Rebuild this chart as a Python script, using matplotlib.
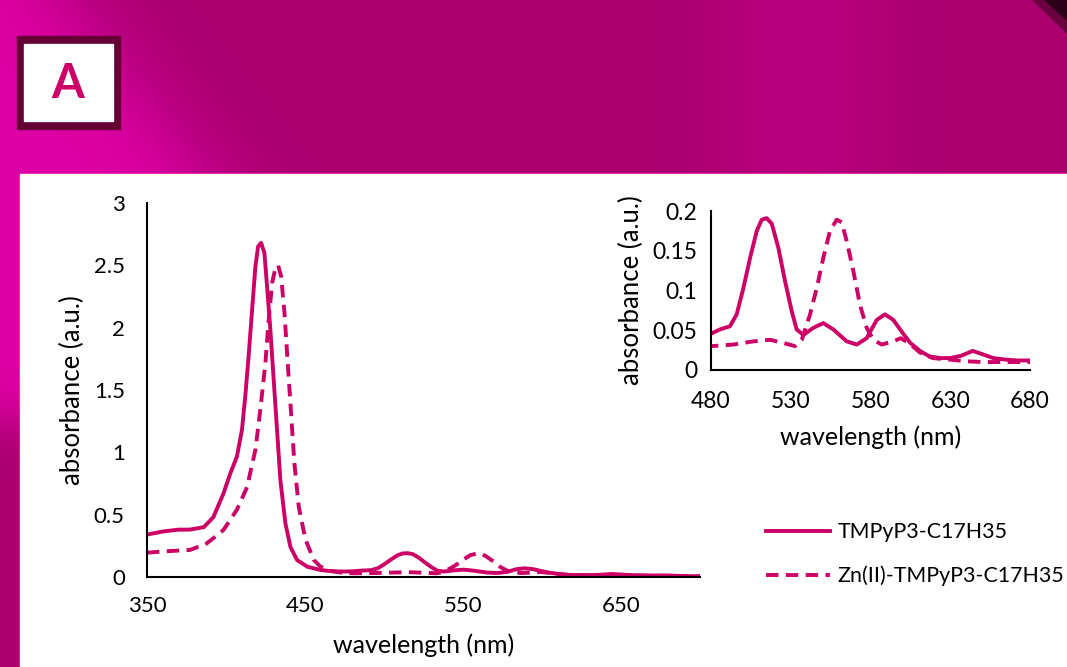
import matplotlib
matplotlib.use("Agg")
import matplotlib.pyplot as plt
import numpy as np
from matplotlib.patches import Rectangle, Polygon

plt.rcParams['font.family'] = ['Lato', 'DejaVu Sans']

# TMPyP3-C17H35 (solid)
wl_free = [350, 360, 370, 377, 386, 392, 398.4, 402.7, 406.9, 410.1, 412.2, 414.3, 416.5, 418.6,
           420.3, 422.2, 424.3, 426, 428.1, 430.2, 432.3, 434.4, 437.6, 440.8, 445, 451.4, 459.8,
           468, 475, 480.4, 485.6, 491.9, 496.1, 500.3, 504.5, 508.7, 511.8, 514.9, 518.1, 522.2,
           526.4, 530.6, 533.7, 537.9, 544.1, 550.4, 556.7, 565.1, 571.4, 577.6, 583.9, 589.1,
           594.3, 600, 605, 611, 617, 624, 630, 637, 644, 650, 657, 665, 672, 680, 690, 700]
abs_free = [0.34, 0.365, 0.38, 0.38, 0.40, 0.48, 0.67, 0.83, 0.965, 1.18, 1.45, 1.77, 2.14, 2.49,
            2.65, 2.68, 2.60, 2.33, 1.98, 1.58, 1.18, 0.78, 0.43, 0.24, 0.136, 0.083, 0.056,
            0.045, 0.044, 0.046, 0.051, 0.055, 0.070, 0.103, 0.141, 0.175, 0.189, 0.191, 0.184,
            0.154, 0.112, 0.074, 0.051, 0.044, 0.053, 0.059, 0.051, 0.036, 0.032, 0.040, 0.063,
            0.070, 0.063, 0.047, 0.034, 0.024, 0.017, 0.015, 0.015, 0.018, 0.024, 0.020, 0.015,
            0.013, 0.012, 0.012, 0.008, 0.005]

# Zn(II)-TMPyP3-C17H35 (dashed)
wl_zn = [350, 360, 370, 377.3, 387.9, 398.4, 406.9, 413.3, 418.6, 421.7, 424.9, 427, 429.2,
         431.3, 433, 434.9, 437, 439.1, 441.2, 443.3, 446.1, 450.3, 455.6, 459.8, 466, 473,
         480.4, 494, 506.5, 517, 525.3, 532.7, 536.9, 542.1, 546.3, 550.4, 554.6, 558.8, 561.9,
         565.1, 569.3, 573.4, 577.6, 581.8, 587, 594.3, 599, 604, 611, 619, 630, 640, 650, 661,
         670, 680, 690, 700]
abs_zn = [0.195, 0.205, 0.212, 0.217, 0.27, 0.377, 0.54, 0.72, 1.02, 1.34, 1.71, 2.06, 2.36,
          2.48, 2.50, 2.41, 2.12, 1.71, 1.31, 0.91, 0.56, 0.30, 0.136, 0.083, 0.05, 0.035,
          0.030, 0.032, 0.036, 0.038, 0.034, 0.030, 0.038, 0.070, 0.103, 0.141, 0.175, 0.189,
          0.186, 0.162, 0.124, 0.082, 0.053, 0.038, 0.032, 0.036, 0.040, 0.034, 0.022, 0.015,
          0.013, 0.011, 0.010, 0.010, 0.010, 0.010, 0.007, 0.005]

label_free = 'TMPyP3-C17H35'
label_zn = 'Zn(II)-TMPyP3-C17H35'
main_xticks = [350, 450, 550, 650]
main_yticks = [0, 0.5, 1, 1.5, 2, 2.5, 3]
inset_xticks = [480, 530, 580, 630, 680]
inset_yticks = [0, 0.05, 0.1, 0.15, 0.2]

col = '#CC0066'
W, H = 1067, 667
lw = 2.8
dash = (0, (3.2, 1.9))

fig = plt.figure(figsize=(W / 100, H / 100), dpi=100)

# slide background (gradient)
bg = fig.add_axes([0, 0, 1, 1])
yy, xx = np.mgrid[0:H, 0:W].astype(float)
dark = np.array([170, 0, 112]) / 255
bright = np.array([222, 0, 165]) / 255
mid = np.array([196, 0, 138]) / 255
w_diag = 1 / (1 + np.exp((xx - (70 + yy * 0.77)) / 30))
w_band = 0.5 * np.exp(-((xx - 800) / 90) ** 2)
w_left = 1 / (1 + np.exp((yy - 420) / 15))
w = np.where(yy < 173, w_diag, w_left)
img = dark * (1 - w[..., None]) + bright * w[..., None]
img = img * (1 - w_band[..., None]) + mid * w_band[..., None]
img = img.clip(0, 1)
bg.imshow(img, extent=[0, W, H, 0], aspect='auto')
bg.set_xlim(0, W)
bg.set_ylim(H, 0)
bg.axis('off')
bg.add_patch(Polygon([(1033, 0), (1045, 0), (1067, 20), (1067, 33)], color='#6A0040'))
bg.add_patch(Polygon([(1045, 0), (1067, 0), (1067, 20)], color='#2B0019'))
bg.add_patch(Rectangle((20, 174), W - 20, H - 174, color='white'))
bg.add_patch(Rectangle((17, 36), 103, 93, color='#650035'))
bg.add_patch(Rectangle((24, 44), 89, 77, color='white'))
bg.text(68, 84, 'A', ha='center', va='center', fontsize=34, fontweight='bold', color=col)

# main chart
ax = fig.add_axes([147 / W, 1 - 577 / H, (700 - 147) / W, (577 - 203) / H])
ax.set_facecolor('none')
ax.plot(wl_free, abs_free, color=col, lw=lw, label=label_free, solid_joinstyle='round')
ax.plot(wl_zn, abs_zn, color=col, lw=lw, ls=dash, label=label_zn)
ax.set_xlim(350, 700)
ax.set_ylim(0, 3)
ax.set_xticks(main_xticks)
ax.set_yticks(main_yticks)
ax.set_yticklabels(['0', '0.5', '1', '1.5', '2', '2.5', '3'])
ax.tick_params(length=0, labelsize=16)
ax.tick_params(axis='y', pad=16)
ax.tick_params(axis='x', pad=14)
for s in ['top', 'right']:
    ax.spines[s].set_visible(False)
for s in ['left', 'bottom']:
    ax.spines[s].set_linewidth(1.5)
ax.set_xlabel('wavelength (nm)', fontsize=18, labelpad=12)
ax.set_ylabel('absorbance (a.u.)', fontsize=18.5, labelpad=6)

# inset
ins = fig.add_axes([711 / W, 1 - 370 / H, (1030 - 711) / W, (370 - 211) / H])
ins.set_facecolor('none')
ins.plot(wl_free, abs_free, color=col, lw=lw, solid_joinstyle='round')
ins.plot(wl_zn, abs_zn, color=col, lw=lw, ls=dash)
ins.set_xlim(480, 680)
ins.set_ylim(0, 0.2)
ins.set_xticks(inset_xticks)
ins.set_yticks(inset_yticks)
ins.set_yticklabels(['0', '0.05', '0.1', '0.15', '0.2'])
ins.tick_params(length=0, labelsize=16.5)
ins.tick_params(axis='y', pad=10)
ins.tick_params(axis='x', pad=15)
for s in ['top', 'right']:
    ins.spines[s].set_visible(False)
for s in ['left', 'bottom']:
    ins.spines[s].set_linewidth(1.5)
ins.set_xlabel('wavelength (nm)', fontsize=18, labelpad=10)
ins.set_ylabel('absorbance (a.u.)', fontsize=18.5, labelpad=6)

fig.legend(loc='upper left', bbox_to_anchor=(747 / W, 1 - 503 / H), frameon=False,
           fontsize=15.4, handlelength=3.0, handletextpad=0.33, labelspacing=1.1)

fig.savefig('out.png', dpi=100)
